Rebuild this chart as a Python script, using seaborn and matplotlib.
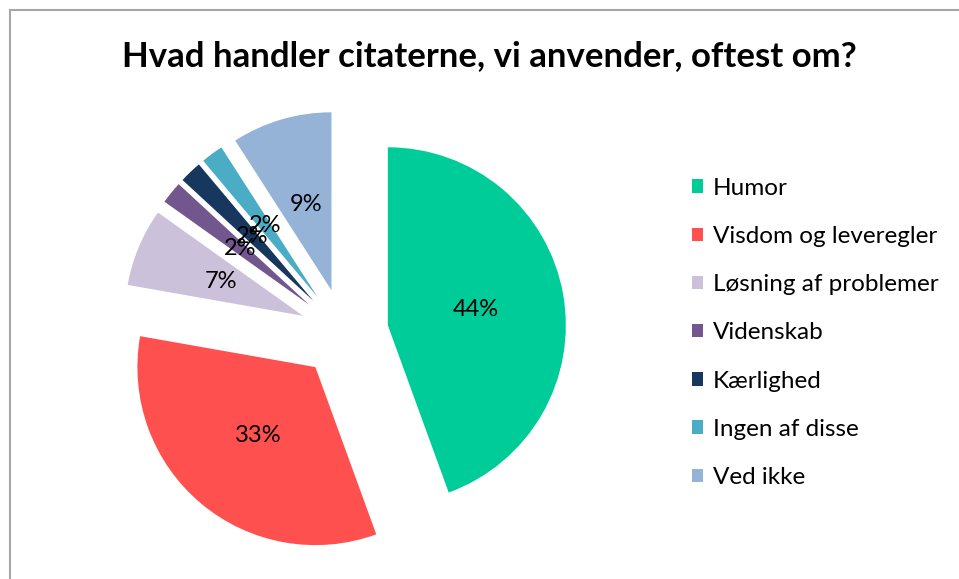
import matplotlib
matplotlib.use("Agg")
import matplotlib.pyplot as plt
from matplotlib.patches import Rectangle
import seaborn as sns

categories = ["Humor", "Visdom og leveregler", "Løsning af problemer", "Videnskab",
              "Kærlighed", "Ingen af disse", "Ved ikke"]
shares = [44, 33, 7, 2, 2, 2, 9]
colors = ["#00CC99", "#FF5050", "#CCC1DA", "#72578F", "#17375E", "#4BACC6", "#95B3D7"]
title = "Hvad handler citaterne, vi anvender, oftest om?"

sns.set_theme(style="white")
plt.rcParams["font.family"] = ["Lato", "DejaVu Sans"]
plt.rcParams["text.color"] = "black"

W, H = 959, 579
fig = plt.figure(figsize=(W / 100, H / 100), dpi=100)
fig.patch.set_facecolor("white")

# outer chart frame (runs off the right and bottom edge)
fig.add_artist(Rectangle((9.5 / W, -0.05), 1.2, (569.5 / H) + 0.05, transform=fig.transFigure,
                         fill=False, edgecolor="#A6A6A6", linewidth=1.5))

# pie axes: 178 px per unit, centre at (344, 333)
r_px = 178
half = 1.4 * r_px
cx, cy = 344, H - 333
ax = fig.add_axes([(cx - half) / W, (cy - half) / H, 2 * half / W, 2 * half / H])
wedges, _, autotexts = ax.pie(
    shares,
    colors=colors,
    startangle=90,
    counterclock=False,
    explode=[0.25] * len(shares),
    autopct=lambda p: f"{p:.0f}%",
    pctdistance=0.5,
    textprops={"fontsize": 17, "color": "black"},
    wedgeprops={"linewidth": 0},
)
ax.set_xlim(-1.4, 1.4)
ax.set_ylim(-1.4, 1.4)
ax.axis("off")

fig.text(489.5 / W, 1 - 56 / H, title, ha="center", va="center",
         fontsize=25, fontweight="bold", color="black")

fig.legend(wedges, categories, loc="upper left", bbox_to_anchor=(682 / W, 1 - 168 / H),
           frameon=False, fontsize=17.5, handlelength=0.47, handleheight=0.47,
           handletextpad=0.4, labelspacing=1.12, borderaxespad=0)

plt.savefig("out.png", dpi=100)
plt.close()
